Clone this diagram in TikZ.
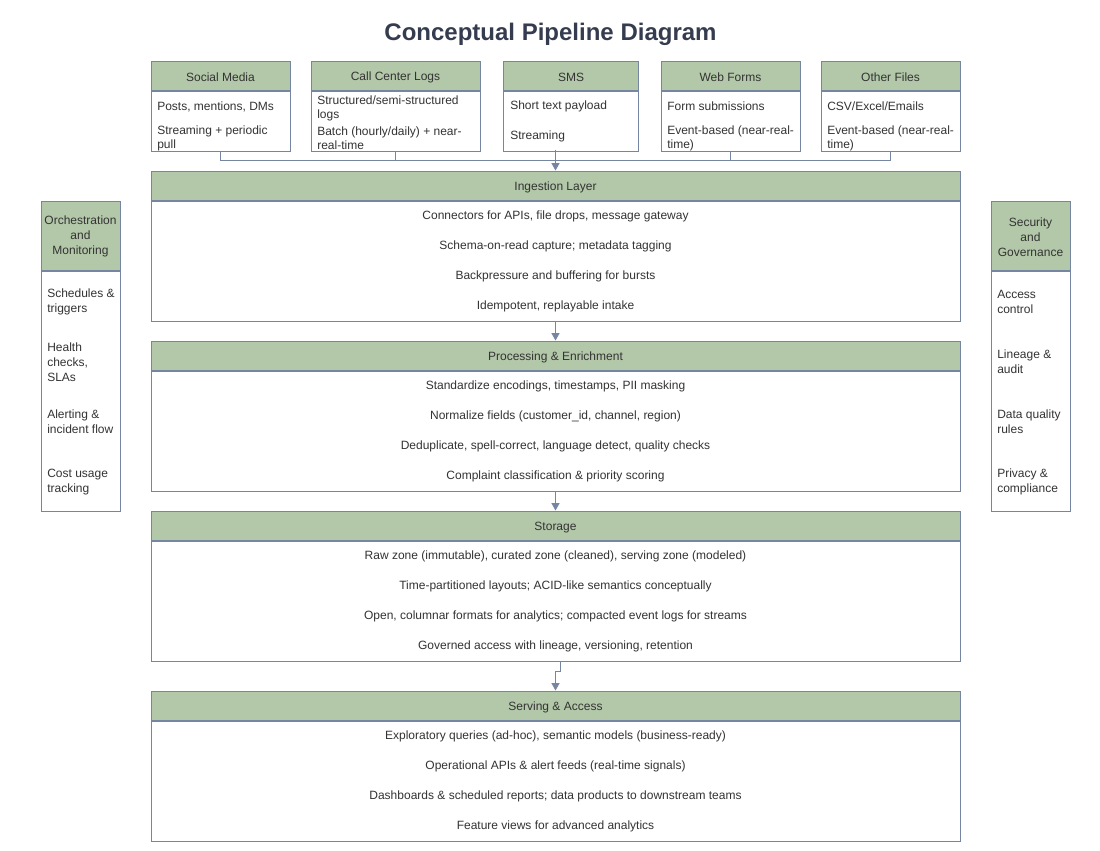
\documentclass[tikz,border=0pt]{standalone}
\usepackage{fontspec}
\setmainfont{Liberation Sans}
\usetikzlibrary{arrows.meta,positioning}

\definecolor{headgreen}{HTML}{B3C8A9}
\definecolor{edgeblue}{HTML}{7685A1}
\definecolor{inktext}{HTML}{333333}
\definecolor{titleink}{HTML}{363C4F}

\begin{document}
\begin{tikzpicture}
    [x=0.75pt,y=-0.75pt,
     head/.style={draw=edgeblue,fill=headgreen,line width=0.75pt,text=inktext,
       font=\fontsize{9}{11.25}\selectfont,inner sep=0pt,align=center,text height=9pt},
     sidehead/.style={head,text height=31pt},
     body/.style={draw=edgeblue,fill=white,line width=0.75pt,inner sep=0pt,anchor=north},
     item/.style={text=inktext,font=\fontsize{9}{10.5}\selectfont,inner sep=0pt,yshift=-1.2pt},
     sideitem/.style={item,font=\fontsize{9}{11.25}\selectfont,align=left,anchor=west},
     srcitem/.style={item,align=left,anchor=west},
     link/.style={draw=edgeblue,line width=0.75pt},
     flow/.style={link,-{Triangle[length=5.5pt,width=6pt]}},
     title/.style={text=titleink,font=\fontsize{18}{22}\selectfont\bfseries}]
    \path[use as bounding box] (0,0) rectangle (1100,850);

    \node at (550.5,34) (title) [title] {Conceptual Pipeline Diagram};

    \foreach \n/\cx/\w/\t in {sm/220.5/139/Social Media,cc/395.5/169/Call Center Logs,sms/571/135/SMS,wf/730.5/139/Web Forms,of/890.5/139/Other Files} {
      \node at (\cx,75.5) (\n head) [head,minimum width=\w*0.75pt,minimum height=29*0.75pt] {\t};
      \node at (\n head.south) (\n body) [body,minimum width=\w*0.75pt,minimum height=60*0.75pt] {};
    }
    \node at (157,105) (sm i1) [srcitem] {Posts, mentions, DMs};
    \node at (157,137) (sm i2) [srcitem] {Streaming + periodic\\pull};
    \node at (317,107) (cc i1) [srcitem] {Structured/semi-structured\\logs};
    \node at (317,137) (cc i2) [srcitem] {Batch (hourly/daily) + near-\\real-time};
    \node at (510,105) (sms i1) [srcitem] {Short text payload};
    \node at (510,135) (sms i2) [srcitem] {Streaming};
    \node at (667,105) (wf i1) [srcitem] {Form submissions};
    \node at (667,137) (wf i2) [srcitem] {Event-based (near-real-\\time)};
    \node at (827,105) (of i1) [srcitem] {CSV/Excel/Emails};
    \node at (827,137) (of i2) [srcitem] {Event-based (near-real-\\time)};

    \node at (555.5,185.5) (ing head) [head,minimum width=809*0.75pt,minimum height=29*0.75pt] {Ingestion Layer};
    \node at (ing head.south) (ing body) [body,minimum width=809*0.75pt,minimum height=120*0.75pt] {};
    \foreach \t [count=\i] in {{Connectors for APIs, file drops, message gateway},
        {Schema-on-read capture; metadata tagging},
        {Backpressure and buffering for bursts},
        {Idempotent, replayable intake}}
      \node at (555.5,185+30*\i) (ing i\i) [item] {\t};

    \node at (555.5,355.5) (pro head) [head,minimum width=809*0.75pt,minimum height=29*0.75pt] {Processing \& Enrichment};
    \node at (pro head.south) (pro body) [body,minimum width=809*0.75pt,minimum height=120*0.75pt] {};
    \foreach \t [count=\i] in {{Standardize encodings, timestamps, PII masking},
        {Normalize fields (customer\_id, channel, region)},
        {Deduplicate, spell-correct, language detect, quality checks},
        {Complaint classification \& priority scoring}}
      \node at (555.5,355+30*\i) (pro i\i) [item] {\t};

    \node at (555.5,525.5) (sto head) [head,minimum width=809*0.75pt,minimum height=29*0.75pt] {Storage};
    \node at (sto head.south) (sto body) [body,minimum width=809*0.75pt,minimum height=120*0.75pt] {};
    \foreach \t [count=\i] in {{Raw zone (immutable), curated zone (cleaned), serving zone (modeled)},
        {Time-partitioned layouts; ACID-like semantics conceptually},
        {Open, columnar formats for analytics; compacted event logs for streams},
        {Governed access with lineage, versioning, retention}}
      \node at (555.5,525+30*\i) (sto i\i) [item] {\t};

    \node at (555.5,705.5) (srv head) [head,minimum width=809*0.75pt,minimum height=29*0.75pt] {Serving \& Access};
    \node at (srv head.south) (srv body) [body,minimum width=809*0.75pt,minimum height=120*0.75pt] {};
    \foreach \t [count=\i] in {{Exploratory queries (ad-hoc), semantic models (business-ready)},
        {Operational APIs \& alert feeds (real-time signals)},
        {Dashboards \& scheduled reports; data products to downstream teams},
        {Feature views for advanced analytics}}
      \node at (555.5,705+30*\i) (srv i\i) [item] {\t};

    \node at (80.5,235.5) (orc head) [sidehead,minimum width=79*0.75pt,minimum height=69*0.75pt] {Orchestration\\and\\Monitoring};
    \node at (orc head.south) (orc body) [body,minimum width=79*0.75pt,minimum height=240*0.75pt] {};
    \foreach \t [count=\i] in {{Schedules \&\\triggers},{Health\\checks,\\SLAs},
        {Alerting \&\\incident flow},{Cost usage\\tracking}}
      \node at (47,240.5+60*\i) (orc i\i) [sideitem] {\t};

    \node at (1030.5,235.5) (sec head) [sidehead,minimum width=79*0.75pt,minimum height=69*0.75pt] {Security\\and\\Governance};
    \node at (sec head.south) (sec body) [body,minimum width=79*0.75pt,minimum height=240*0.75pt] {};
    \foreach \t [count=\i] in {{Access\\control},{Lineage \&\\audit},
        {Data quality\\rules},{Privacy \&\\compliance}}
      \node at (997,240.5+60*\i) (sec i\i) [sideitem] {\t};

    \coordinate (src join) at (555.5,160);
    \coordinate (sms out) at (555.5,150);
    \foreach \n in {sm,cc,wf,of}
      \draw[link] (\n body.south) |- (src join);
    \draw[flow] (sms out) -- (ing head.north);
    \draw[flow] (ing body.south) -- (pro head.north);
    \draw[flow] (pro body.south) -- (sto head.north);
    \draw[flow] ([xshift=3.75pt]sto body.south) -- ++(0,10) -| (srv head.north);
\end{tikzpicture}
\end{document}
